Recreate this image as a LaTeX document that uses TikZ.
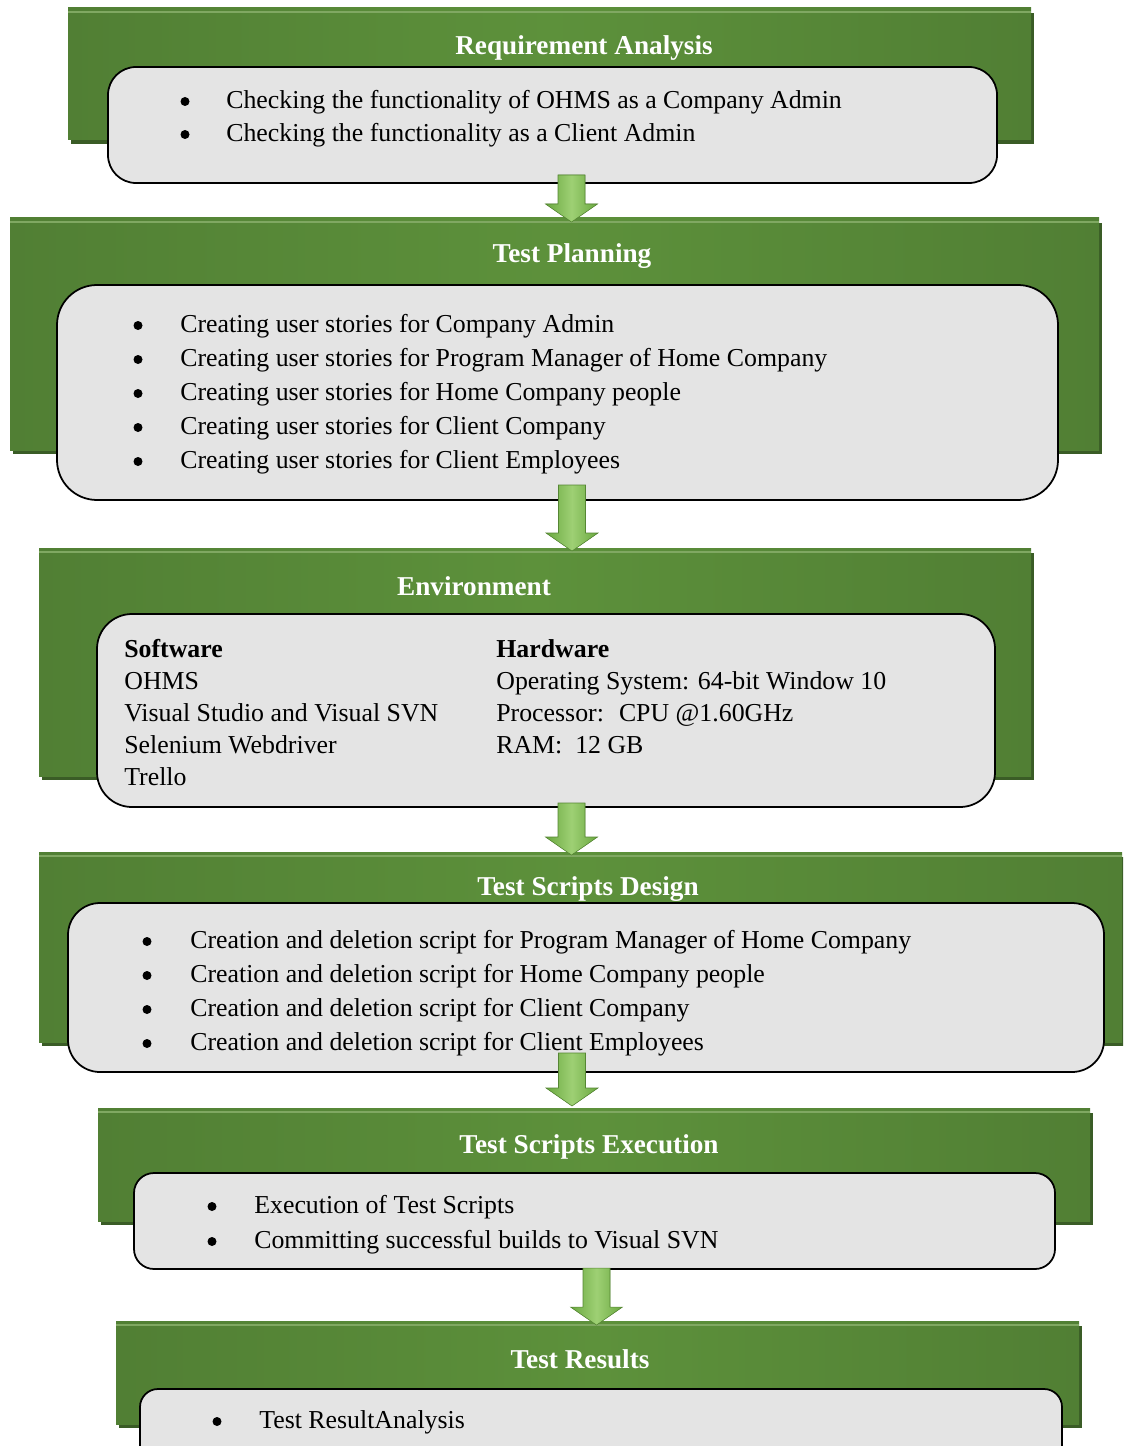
\documentclass[tikz,border=0pt]{standalone}
\usepackage{fontspec}
\setmainfont{Liberation Serif}
\usetikzlibrary{calc}
\definecolor{stageDark}{RGB}{81,127,52}
\definecolor{stageLight}{RGB}{93,145,59}
\definecolor{stageShadow}{RGB}{58,92,38}
\definecolor{stageLine}{RGB}{128,168,98}
\definecolor{panelGrey}{RGB}{228,228,228}
\definecolor{arrowEdge}{RGB}{106,168,64}
\definecolor{arrowMid}{RGB}{158,208,116}
\newcommand{\stageBox}[4]{%%
  %% Shadow of the green band.
  \fill[stageShadow] (#1+3,#2+5) rectangle (#3+3,#4+4);
  %% The green band.
  \shade[left color=stageDark,right color=stageDark,middle color=stageLight] (#1,#2) rectangle (#3,#4);
  \draw[stageLine,line width=0.6pt] (#1,#2+4) -- (#3,#2+4);
}
\newcommand{\stageArrow}[2]{%%
  %% Shadow of the block arrow.
  \fill[stageShadow,shift={(4,3)}] ($(#1)+(-13.5,0)$) -- ($(#1)+(13.5,0)$) -- ($(#2)+(13.5,-18)$)
    -- ($(#2)+(26,-18)$) -- (#2) -- ($(#2)+(-26,-18)$) -- ($(#2)+(-13.5,-18)$) -- cycle;
  %% The block arrow.
  \shade[left color=arrowEdge,right color=arrowEdge,middle color=arrowMid,draw=arrowEdge!80!black,line width=0.3pt]
    ($(#1)+(-13.5,0)$) -- ($(#1)+(13.5,0)$) -- ($(#2)+(13.5,-18)$)
    -- ($(#2)+(26,-18)$) -- (#2) -- ($(#2)+(-26,-18)$) -- ($(#2)+(-13.5,-18)$) -- cycle;
}

\begin{document}
\begin{tikzpicture}[%%
  x=0.02cm,y=-0.02cm,%%
  panelStyle/.style={fill=panelGrey,draw=black,line width=1pt},%%
  titleText/.style={text=white,font=\fontsize{15.5}{17}\selectfont\bfseries,inner sep=0pt,yshift=-0.05cm},%%
  itemText/.style={font=\fontsize{14.7}{16}\selectfont,inner sep=0pt,anchor=mid west,yshift=-0.06cm},%%
  bulletDot/.style={circle,fill=black,inner sep=0pt,minimum size=0.18cm,yshift=-0.01cm},%%
  headText/.style={font=\fontsize{14.7}{16}\selectfont\bfseries,inner sep=0pt,anchor=mid west,yshift=-0.06cm},%%
]
\useasboundingbox (0,0) rectangle (1123,1446);
\clip (0,0) rectangle (1123,1446);
%%
%% Requirement Analysis.
\stageBox{68}{8}{1031}{140}
\draw[panelStyle,rounded corners=0.56cm] (108,67) rectangle (997,183);
\node[titleText] (reqTitle) at (584,45) {Requirement Analysis};
\foreach \txt [count=\i] in {Checking the functionality of OHMS as a Company Admin,
                             Checking the functionality as a Client Admin}
{
  \node[bulletDot] (reqDot\i) at (185,{101+(\i-1)*33}) {};
  \node[itemText] (req\i) at (226,{101+(\i-1)*33}) {\txt};
}
%%
%% Test Planning.
\stageBox{10}{218}{1099}{450}
\draw[panelStyle,rounded corners=0.8cm] (57,285) rectangle (1058,500);
\node[titleText] (planTitle) at (572,254) {Test Planning};
\foreach \txt [count=\i] in {Creating user stories for Company Admin,
                             Creating user stories for Program Manager of Home Company,
                             Creating user stories for Home Company people,
                             Creating user stories for Client Company,
                             Creating user stories for Client Employees}
{
  \node[bulletDot] (planDot\i) at (138,{325+(\i-1)*34}) {};
  \node[itemText] (plan\i) at (180,{325+(\i-1)*34}) {\txt};
}
%%
%% Environment.
\stageBox{39}{548}{1031}{776}
\draw[panelStyle,rounded corners=0.7cm] (97,614) rectangle (995,807);
\node[titleText] (envTitle) at (474,584) {Environment};
\node[headText] (softHead) at (124,650) {Software};
\node[headText] (hardHead) at (496,650) {Hardware};
\foreach \txt [count=\i] in {OHMS,Visual Studio and Visual SVN,Selenium Webdriver,Trello}
{
  \node[itemText] (soft\i) at (124,{682+(\i-1)*32.3}) {\txt};
}
\foreach \txt [count=\i] in {Operating System: 64-bit Window 10,Processor:~ CPU @1.60GHz,RAM:~ 12 GB}
{
  \node[itemText] (hard\i) at (496,{682+(\i-1)*32}) {\txt};
}
%%
%% Test Scripts Design.
\stageBox{39}{852}{1122}{1042}
\draw[panelStyle,rounded corners=0.64cm] (68,903) rectangle (1104,1072);
\node[titleText] (designTitle) at (588,887) {Test Scripts Design};
\foreach \txt [count=\i] in {Creation and deletion script for Program Manager of Home Company,
                             Creation and deletion script for Home Company people,
                             Creation and deletion script for Client Company,
                             Creation and deletion script for Client Employees}
{
  \node[bulletDot] (designDot\i) at (147,{941+(\i-1)*34}) {};
  \node[itemText] (design\i) at (190,{941+(\i-1)*34}) {\txt};
}
%%
%% Test Scripts Execution.
\stageBox{98}{1108}{1090}{1221}
\draw[panelStyle,rounded corners=0.4cm] (134,1173) rectangle (1055,1269);
\node[titleText] (execTitle) at (589,1144) {Test Scripts Execution};
\foreach \txt [count=\i] in {Execution of Test Scripts,Committing successful builds to Visual SVN}
{
  \node[bulletDot] (execDot\i) at (212,{1206+(\i-1)*35}) {};
  \node[itemText] (exec\i) at (254,{1206+(\i-1)*35}) {\txt};
}
%%
%% Test Results.
\stageBox{116}{1321}{1079}{1424}
\draw[panelStyle,rounded corners=0.36cm] (140,1389) rectangle (1062,1470);
\node[titleText] (resTitle) at (580,1357) {Test Results};
\node[bulletDot] (resDot1) at (217,1421) {};
\node[itemText] (res1) at (259,1421) {Test ResultAnalysis};
%%
%% The block arrows between the stages.
\coordinate (arrTop1) at (571.5,175);  \coordinate (arrTip1) at (571.5,222);
\coordinate (arrTop2) at (572,485);    \coordinate (arrTip2) at (572,551);
\coordinate (arrTop3) at (571.5,803);  \coordinate (arrTip3) at (571.5,855);
\coordinate (arrTop4) at (572,1053);   \coordinate (arrTip4) at (572,1106);
\coordinate (arrTop5) at (596.5,1268); \coordinate (arrTip5) at (596.5,1325);
\foreach \k in {1,...,5}
{
  \stageArrow{arrTop\k}{arrTip\k}
}
\end{tikzpicture}
\end{document}
